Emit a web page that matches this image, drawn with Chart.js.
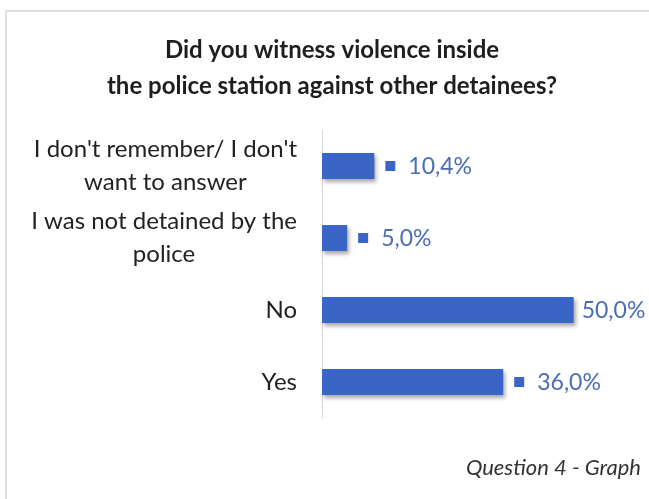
<!DOCTYPE html>
<html>
<head>
<meta charset="utf-8">
<script src="https://cdn.jsdelivr.net/npm/chart.js@4"></script>
<style>
  html, body { margin: 0; padding: 0; background: #fff; overflow: hidden; }
  .frame {
    position: absolute; left: 5px; top: 10px; width: 900px; height: 800px;
    border-left: 2px solid #dde0e9; border-top: 2px solid #dde0e9;
  }
  .wrap { position: absolute; left: 0; top: 0; width: 670px; height: 499px; }
</style>
</head>
<body>
<div class="frame"></div>
<div class="wrap"><canvas id="chart" width="670" height="499"></canvas></div>
<script>
const categories = [
  ["I don't remember/ I don't", "want to answer"],
  ["I was not detained by the", "police"],
  "No",
  "Yes"
];
const shares = [10.4, 5.0, 50.0, 36.0];
// Excel hid the legend key on the longest bar's label
const showKey = [true, true, false, true];

const titleLines = ["Did you witness violence inside", "the police station against other detainees?"];
const footnote = "Question 4 - Graph";

const BAR_BLUE = '#3a64c6';
const LABEL_BLUE = '#4a6db5';

const fmt = v => v.toFixed(1).replace('.', ',') + '%';

const labelsPlugin = {
  id: 'labels',
  beforeDatasetsDraw(chart) {
    const ctx = chart.ctx;
    ctx.save();
    ctx.shadowColor = 'rgba(0,0,0,0.35)';
    ctx.shadowBlur = 4;
    ctx.shadowOffsetX = 2;
    ctx.shadowOffsetY = 3;
  },
  afterDatasetsDraw(chart) {
    const ctx = chart.ctx;
    ctx.restore();
    ctx.save();
    ctx.textBaseline = 'middle';

    // two-line heading
    ctx.font = 'bold 24px Lato';
    ctx.textAlign = 'center';
    ctx.fillStyle = '#1e1e1e';
    titleLines.forEach((line, j) => ctx.fillText(line, 332, 50 + j * 36));

    // value labels at the bar ends
    const meta = chart.getDatasetMeta(0);
    ctx.font = '23px Lato';
    ctx.textAlign = 'left';
    meta.data.forEach((bar, i) => {
      let x = bar.x;
      if (showKey[i]) {
        ctx.fillStyle = BAR_BLUE;
        ctx.fillRect(x + 11, bar.y - 5, 10, 10);
        x += 34;
      } else {
        x += 8;
      }
      ctx.fillStyle = LABEL_BLUE;
      ctx.fillText(fmt(shares[i]), x, bar.y + 1);
    });

    // category labels: wrapped lines centred in a right-aligned block
    const yScale = chart.scales.y;
    const right = chart.chartArea.left - 25;
    ctx.fillStyle = '#222';
    ctx.font = '24px Lato';
    categories.forEach((cat, i) => {
      const lines = Array.isArray(cat) ? cat : [cat];
      const cy = yScale.getPixelForValue(i);
      const blockW = Math.max(...lines.map(l => ctx.measureText(l).width));
      lines.forEach((line, j) => {
        const y = cy + (j - (lines.length - 1) / 2) * 33;
        if (lines.length > 1) {
          ctx.textAlign = 'center';
          ctx.fillText(line, right - blockW / 2, y);
        } else {
          ctx.textAlign = 'right';
          ctx.fillText(line, right, y);
        }
      });
    });

    ctx.font = 'italic 22px Lato';
    ctx.textAlign = 'right';
    ctx.fillStyle = '#333';
    ctx.fillText(footnote, 641, 468);
    ctx.restore();
  }
};

new Chart(document.getElementById('chart'), {
  type: 'bar',
  data: {
    labels: categories,
    datasets: [{
      data: shares,
      backgroundColor: BAR_BLUE,
      borderWidth: 0,
      categoryPercentage: 1,
      barPercentage: 0.36
    }]
  },
  options: {
    indexAxis: 'y',
    responsive: false,
    animation: false,
    layout: { padding: { left: 0, right: 46, top: 130, bottom: 81 } },
    plugins: {
      legend: { display: false },
      tooltip: { enabled: false },
      title: { display: false }
    },
    scales: {
      x: { display: false, min: 0, max: 60 },
      y: {
        ticks: { display: false },
        grid: { display: false },
        border: { display: true, color: '#d9d9d9', width: 1 },
        afterFit(scale) { scale.width = 322; }
      }
    }
  },
  plugins: [labelsPlugin]
});
</script>
</body>
</html>
